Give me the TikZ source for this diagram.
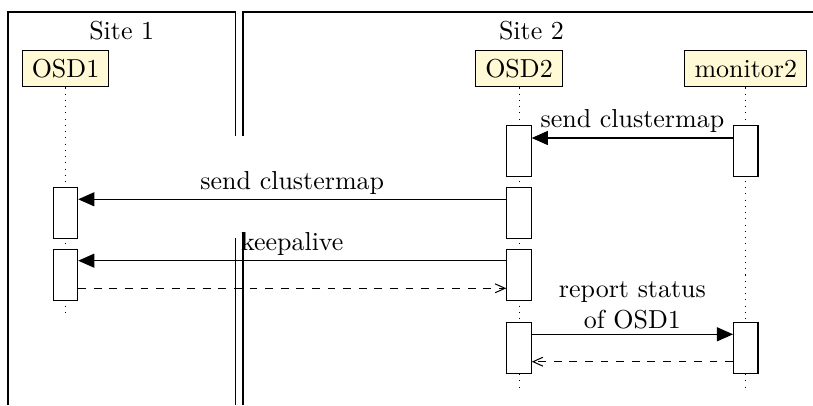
\documentclass[tikz,border=0pt]{standalone}
\usepackage{tikz}
\usetikzlibrary{arrows.meta, positioning}

\definecolor{headfill}{RGB}{255,250,213}

\begin{document}
\begin{tikzpicture} [x=0.385pt, y=-0.385pt, on grid,
        head/.style={draw, fill=headfill, minimum height=14.2pt, inner xsep=3.7pt},
        act/.style={draw, fill=white, minimum width=9.4pt, minimum height=19.7pt, inner sep=0pt},
        lifeline/.style={dotted},
        call/.style={-{Triangle[length=6.2pt, width=5.4pt]}},
        reply/.style={dashed, -{Straight Barb[length=3.8pt, width=3.4pt]}},
        msglabel/.style={above, inner sep=1.8pt, align=center}]
        \useasboundingbox (0,0) rectangle (813,405);

        \draw (8,405) -- (8,12) -- (235.5,12) -- (235.5,136);
        \draw (235.5,238) -- (235.5,405);
        \draw (243,405) -- (243,232);
        \draw (243,136) -- (243,12) -- (813,12);
        \node (site1) at (121.75,31) {Site 1};
        \node (site2) at (531.5,31) {Site 2};

        \node (osd1) [head] at (65.5,68.5) {OSD1};
        \node (osd2) [head, right = 174.6pt of osd1] {OSD2};
        \node (mon2) [head, right = 87.3pt of osd2] {monitor2};

        \draw [lifeline] (osd1) -- (osd1 |- 0,312);
        \draw [lifeline] (osd2) -- (osd2 |- 0,387);
        \draw [lifeline] (mon2) -- (mon2 |- 0,387);

        \node (o2a) [act] at (osd2 |- 0,151) {};
        \node (m2a) [act] at (mon2 |- 0,151) {};
        \node (o1a) [act] at (osd1 |- 0,213) {};
        \node (o2b) [act] at (osd2 |- 0,213) {};
        \node (o1b) [act] at (osd1 |- 0,274.7) {};
        \node (o2c) [act] at (osd2 |- 0,274.7) {};
        \node (o2d) [act] at (osd2 |- 0,347.8) {};
        \node (m2b) [act] at (mon2 |- 0,347.8) {};

        \draw [call] (m2a.west |- 0,138) -- node [msglabel] {send clustermap} (o2a.east |- 0,138);
        \draw [call] (o2b.west |- 0,199.3) -- node [msglabel] {send clustermap} (o1a.east |- 0,199.3);
        \draw [call] (o2c.west |- 0,260.7) -- node [msglabel] {keepalive} (o1b.east |- 0,260.7);
        \draw [reply] (o1b.east |- 0,288.3) -- (o2c.west |- 0,288.3);
        \draw [call] (o2d.east |- 0,334.3) -- node [msglabel] {report status\\of OSD1} (m2b.west |- 0,334.3);
        \draw [reply] (m2b.west |- 0,361.7) -- (o2d.east |- 0,361.7);

    \end{tikzpicture}
\end{document}
